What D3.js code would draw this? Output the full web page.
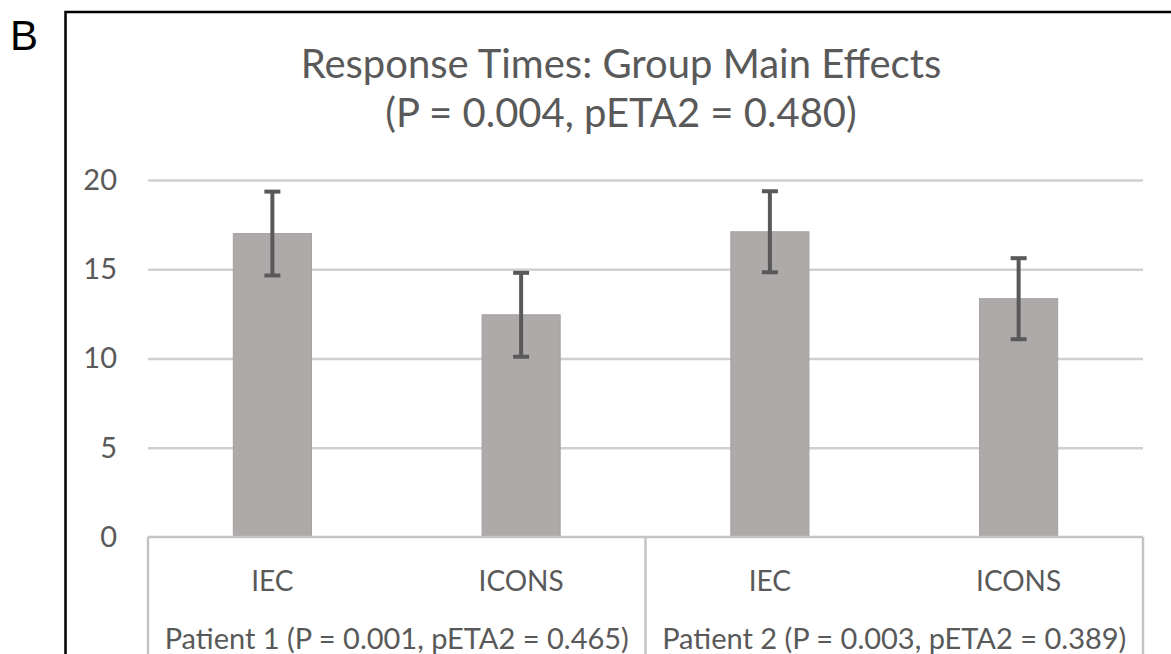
<!DOCTYPE html>
<html>
<head>
<meta charset="utf-8">
<script src="https://cdn.jsdelivr.net/npm/d3@7"></script>
<style>
  body { margin: 0; background: #fff; }
  svg { display: block; }
  .tick text { font-family: Lato, sans-serif; fill: #595959; }
</style>
</head>
<body>
<svg id="chart" width="1171" height="654"></svg>
<script>
// data
var categories = ["IEC", "ICONS", "IEC", "ICONS"];
var groups = ["Patient 1 (P = 0.001, pETA2 = 0.465)", "Patient 2 (P = 0.003, pETA2 = 0.389)"];
var means = [17.0, 12.45, 17.1, 13.35];
var errors = [2.35, 2.35, 2.27, 2.27];
var yTicks = [0, 5, 10, 15, 20];
var titleLines = ["Response Times: Group Main Effects", "(P = 0.004, pETA2 = 0.480)"];

(function () {
    var svg = d3.select("#chart");
    var W = 1171, H = 654;
    var pLeft = 148, pRight = 1143, pTop = 180, pBottom = 537;

    var x = d3.scaleBand().domain(d3.range(categories.length)).range([pLeft, pRight]).padding(0);
    var y = d3.scaleLinear().domain([0, 20]).range([pBottom, pTop]);
    var barW = x.bandwidth() * 0.314;
    var cx = function (i) { return x(i) + x.bandwidth() / 2; };

    // panel letter
    svg.append("text")
        .attr("x", 10).attr("y", 50)
        .style("font-family", "Liberation Sans, Arial, sans-serif")
        .style("font-size", "42px")
        .attr("fill", "#000")
        .text("B");

    // outer frame (runs off the right and bottom)
    svg.append("path")
        .attr("d", "M65.5," + (H + 10) + "V12H" + (W + 10))
        .attr("fill", "none")
        .attr("stroke", "#000")
        .attr("stroke-width", 2.5);

    // title
    svg.append("g").selectAll("text")
        .data(titleLines)
        .join("text")
        .attr("x", 621)
        .attr("y", function (d, i) { return 78 + i * 49; })
        .attr("text-anchor", "middle")
        .style("font-family", "Lato, sans-serif")
        .style("font-size", "40px")
        .attr("fill", "#595959")
        .text(function (d) { return d; });

    // gridlines
    var grid = svg.append("g")
        .attr("transform", "translate(" + pLeft + ",0)")
        .call(d3.axisLeft(y).tickValues(yTicks.filter(function (d) { return d > 0; }))
            .tickSize(-(pRight - pLeft)).tickFormat(""));
    grid.select(".domain").remove();
    grid.selectAll(".tick line").attr("stroke", "#d0d0d0").attr("stroke-width", 2.5);

    // y tick labels
    var yAxis = svg.append("g")
        .attr("transform", "translate(117,0)")
        .call(d3.axisLeft(y).tickValues(yTicks).tickSize(0).tickPadding(0));
    yAxis.select(".domain").remove();
    yAxis.selectAll(".tick text").style("font-size", "29px");

    // bars
    svg.append("g").selectAll("rect")
        .data(means)
        .join("rect")
        .attr("x", function (d, i) { return cx(i) - barW / 2; })
        .attr("y", function (d) { return y(d); })
        .attr("width", barW)
        .attr("height", function (d) { return y(0) - y(d); })
        .attr("fill", "#aeaaaa")
        .attr("stroke", "#a3a0a0")
        .attr("stroke-width", 1);

    // error bars
    var eb = svg.append("g").selectAll("g")
        .data(means)
        .join("g")
        .attr("stroke", "#595959")
        .attr("stroke-width", 4);
    eb.append("line")
        .attr("x1", function (d, i) { return cx(i); })
        .attr("x2", function (d, i) { return cx(i); })
        .attr("y1", function (d, i) { return y(d + errors[i]); })
        .attr("y2", function (d, i) { return y(d - errors[i]); });
    eb.selectAll("line.cap")
        .data(function (d, i) { return [[i, d + errors[i]], [i, d - errors[i]]]; })
        .join("line")
        .attr("class", "cap")
        .attr("x1", function (d) { return cx(d[0]) - 8; })
        .attr("x2", function (d) { return cx(d[0]) + 8; })
        .attr("y1", function (d) { return y(d[1]); })
        .attr("y2", function (d) { return y(d[1]); });

    // category table below the axis
    var table = svg.append("g")
        .attr("stroke", "#c4c4c4")
        .attr("stroke-width", 2.5)
        .attr("fill", "none");
    var groupEdges = [pLeft, x(2), pRight];
    table.append("line")
        .attr("x1", pLeft).attr("x2", pRight)
        .attr("y1", y(0)).attr("y2", y(0));
    table.selectAll("line.edge")
        .data(groupEdges)
        .join("line")
        .attr("class", "edge")
        .attr("x1", function (d) { return d; }).attr("x2", function (d) { return d; })
        .attr("y1", y(0)).attr("y2", H + 10);

    svg.append("g").selectAll("text")
        .data(categories)
        .join("text")
        .attr("x", function (d, i) { return cx(i); })
        .attr("y", 591)
        .attr("text-anchor", "middle")
        .style("font-family", "Lato, sans-serif")
        .style("font-size", "28px")
        .attr("fill", "#595959")
        .text(function (d) { return d; });

    svg.append("g").selectAll("text")
        .data(groups)
        .join("text")
        .attr("x", function (d, i) { return (groupEdges[i] + groupEdges[i + 1]) / 2; })
        .attr("y", 649)
        .attr("text-anchor", "middle")
        .style("font-family", "Lato, sans-serif")
        .style("font-size", "29px")
        .attr("fill", "#595959")
        .text(function (d) { return d; });
})();
</script>
</body>
</html>
